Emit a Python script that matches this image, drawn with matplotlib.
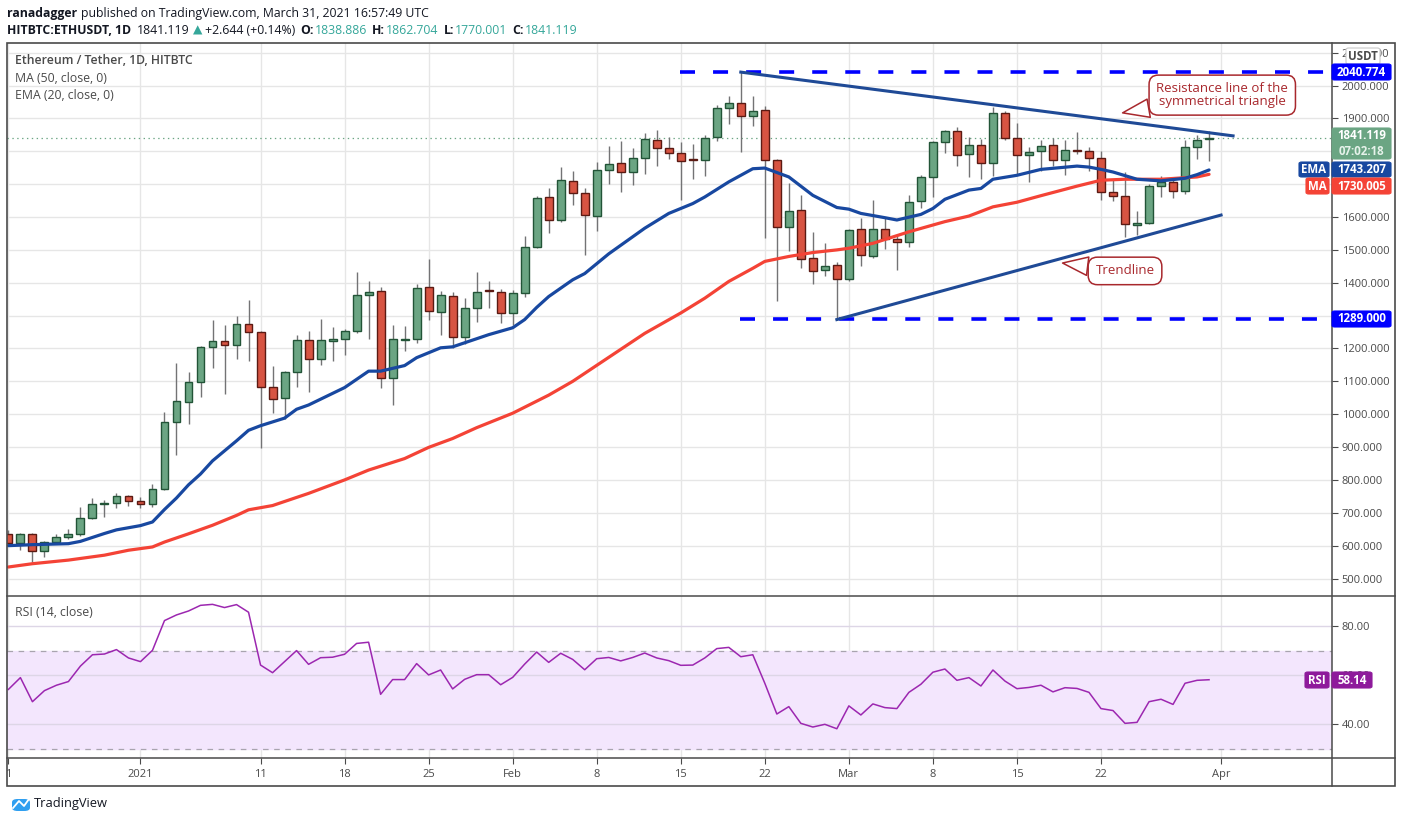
import matplotlib
matplotlib.use('Agg')
import matplotlib.pyplot as plt
from matplotlib.patches import Rectangle, FancyBboxPatch
from matplotlib.lines import Line2D
import numpy as np
import pandas as pd

plt.rcParams['font.family'] = ['Open Sans', 'DejaVu Sans']
plt.rcParams['lines.scale_dashes'] = False

W, H = 1402, 823

# daily candles, Dec 21 2020 .. Mar 31 2021
dates = pd.date_range('2020-12-21', '2021-03-31', freq='D')
opens = [636, 607, 636, 585, 612, 627, 636, 685, 727, 730,
         752, 736, 727, 773, 976, 1037, 1097, 1206, 1222, 1212,
         1273, 1251, 1082, 1048, 1127, 1227, 1167, 1224, 1230, 1254,
         1364, 1376, 1109, 1227, 1230, 1388, 1312, 1361, 1236, 1324,
         1378, 1373, 1309, 1370, 1509, 1661, 1591, 1709, 1673, 1603,
         1742, 1764, 1736, 1779, 1833, 1809, 1794, 1776, 1773, 1845,
         1933, 1948, 1906, 1927, 1773, 1570, 1621, 1476, 1439, 1454,
         1412, 1563, 1481, 1564, 1533, 1524, 1648, 1721, 1827, 1863,
         1791, 1818, 1764, 1918, 1842, 1788, 1800, 1818, 1773, 1803,
         1800, 1779, 1676, 1663, 1576, 1582, 1694, 1706, 1679, 1812,
         1838.886]
highs = [648, 639, 638, 614, 634, 652, 717, 746, 740, 759,
         755, 748, 787, 1007, 1155, 1128, 1209, 1286, 1271, 1298,
         1346, 1254, 1146, 1131, 1242, 1252, 1289, 1265, 1258, 1434,
         1404, 1386, 1271, 1268, 1395, 1471, 1374, 1371, 1355, 1434,
         1404, 1380, 1378, 1543, 1664, 1689, 1752, 1740, 1689, 1767,
         1816, 1831, 1810, 1855, 1864, 1845, 1827, 1822, 1849, 1942,
         1969, 2041, 1969, 1937, 1778, 1703, 1667, 1555, 1521, 1464,
         1565, 1598, 1653, 1600, 1542, 1666, 1727, 1830, 1866, 1875,
         1843, 1836, 1934, 1924, 1885, 1812, 1833, 1842, 1833, 1860,
         1812, 1800, 1715, 1736, 1618, 1700, 1724, 1721, 1833, 1851,
         1862.704]
lows = [598, 588, 549, 566, 605, 620, 629, 680, 687, 714,
        720, 714, 718, 768, 875, 969, 1053, 1141, 1060, 1169,
        1163, 897, 1005, 985, 1084, 1069, 1151, 1162, 1179, 1247,
        1229, 1081, 1029, 1192, 1217, 1287, 1241, 1202, 1214, 1281,
        1323, 1278, 1270, 1357, 1505, 1550, 1584, 1638, 1485, 1559,
        1699, 1675, 1696, 1732, 1756, 1778, 1653, 1717, 1726, 1830,
        1884, 1797, 1878, 1535, 1345, 1497, 1444, 1396, 1421, 1288,
        1405, 1450, 1475, 1503, 1439, 1509, 1627, 1660, 1794, 1754,
        1721, 1715, 1724, 1833, 1730, 1706, 1739, 1754, 1727, 1793,
        1739, 1651, 1648, 1539, 1545, 1578, 1660, 1657, 1670, 1776,
        1770.001]
closes = [607, 636, 585, 612, 627, 636, 685, 727, 730, 752,
          736, 727, 773, 976, 1039, 1097, 1206, 1222, 1212, 1273,
          1251, 1082, 1045, 1127, 1227, 1167, 1227, 1230, 1254, 1364,
          1373, 1109, 1230, 1230, 1385, 1315, 1364, 1236, 1324, 1373,
          1376, 1309, 1370, 1509, 1657, 1591, 1712, 1673, 1606, 1742,
          1760, 1736, 1779, 1836, 1809, 1794, 1770, 1774, 1842, 1933,
          1948, 1906, 1924, 1773, 1570, 1618, 1473, 1436, 1451, 1412,
          1560, 1485, 1563, 1533, 1524, 1645, 1721, 1827, 1863, 1788,
          1818, 1764, 1918, 1842, 1788, 1797, 1815, 1773, 1803, 1801,
          1779, 1676, 1663, 1579, 1582, 1694, 1706, 1679, 1812, 1833,
          1841.119]

# moving averages (day index from Dec 21)
ema_day = [0, 2, 5, 6, 8, 9, 11, 12, 13, 14, 15, 16, 17, 19, 20, 21, 23, 24, 25,
           28, 30, 31, 33, 34, 36, 37, 40, 42, 43, 44, 45, 47, 48, 49, 50, 53, 55,
           57, 58, 60, 61, 62, 63, 65, 67, 69, 70, 71, 73, 74, 76, 77, 78, 80, 81,
           82, 84, 86, 89, 90, 91, 92, 94, 96, 98, 99, 100]
ema_val = [600, 603, 606, 613, 637, 648, 661, 672, 710, 745, 785, 818, 858, 919, 951,
           965, 988, 1015, 1028, 1081, 1131, 1131, 1148, 1172, 1202, 1205, 1242, 1263,
           1288, 1325, 1358, 1409, 1428, 1458, 1488, 1566, 1611, 1641, 1661, 1707, 1727,
           1747, 1749, 1722, 1666, 1629, 1624, 1611, 1598, 1591, 1608, 1626, 1654, 1682,
           1687, 1715, 1727, 1745, 1755, 1752, 1745, 1737, 1715, 1710, 1718, 1729, 1743.207]
ma_day = [0, 2, 5, 8, 10, 12, 13, 15, 16, 17, 19, 20, 22, 25, 28, 30, 33, 35, 37,
          39, 42, 45, 47, 53, 56, 58, 60, 62, 63, 65, 67, 69, 70, 72, 75, 78, 80,
          82, 84, 86, 89, 91, 93, 96, 99, 100]
ma_val = [535, 545, 556, 571, 586, 596, 611, 636, 649, 662, 692, 709, 722, 759, 800,
          830, 865, 899, 926, 959, 1003, 1058, 1100, 1246, 1308, 1353, 1404, 1444,
          1465, 1480, 1492, 1500, 1505, 1520, 1555, 1586, 1603, 1631, 1645, 1665,
          1694, 1712, 1715, 1715, 1722, 1730.005]

rsi = [54.2, 59.0, 49.2, 53.7, 55.9, 57.4, 63.7, 68.3, 68.6, 70.4,
       67.0, 65.5, 70.1, 82.2, 84.5, 86.1, 88.4, 88.8, 87.5, 88.7,
       85.6, 64.1, 61.0, 65.5, 70.0, 64.4, 67.1, 67.3, 68.5, 72.9,
       73.4, 52.2, 58.2, 58.2, 64.7, 60.1, 62.1, 54.4, 58.3, 60.2,
       60.2, 56.1, 59.1, 64.5, 69.4, 65.2, 68.9, 66.4, 62.2, 66.7,
       67.2, 65.8, 67.2, 69.0, 67.0, 65.9, 64.0, 64.1, 67.0, 70.8,
       71.3, 67.5, 68.3, 56.7, 44.2, 47.2, 40.4, 38.9, 40.0, 38.2,
       47.5, 43.8, 48.3, 46.8, 46.4, 53.0, 56.3, 61.2, 62.5, 57.9,
       59.0, 55.6, 62.1, 57.6, 54.5, 55.0, 55.9, 53.2, 54.9, 54.6,
       53.0, 46.4, 45.6, 40.4, 40.8, 49.2, 50.2, 48.1, 56.7, 57.9,
       58.14]

# drawn levels and trend lines
resist_level = 2040.774
support_level = 1289.0
resist_line_day = [61, 102]
resist_line_val = [2041, 1847]
trend_line_day = [69, 101]
trend_line_val = [1288, 1606]
last_price = 1841.119

tick_dates = ['2020-12-21', '2021-01-01', '2021-01-11', '2021-01-18', '2021-01-25',
              '2021-02-01', '2021-02-08', '2021-02-15', '2021-02-22', '2021-03-01',
              '2021-03-08', '2021-03-15', '2021-03-22', '2021-04-01']
tick_labels = ['1', '2021', '11', '18', '25', 'Feb', '8', '15', '22', 'Mar',
               '8', '15', '22', 'Apr']
price_ticks = list(range(500, 2200, 100))
hidden_price_labels = [1300, 1700, 1800]   # covered by the value tags
rsi_ticks = [40, 60, 80]

UP, UP_EDGE = '#6ba583', '#225437'
DN, DN_EDGE = '#d75442', '#5b1a13'
EMA_C, MA_C = '#1848a0', '#f44336'
TXT = '#4a4a4a'
GRID = '#e6e6e6'
NOTE = '#a8282d'


def fx(px):
    return px / W


def fy(py):
    return 1 - py / H


fig = plt.figure(figsize=(W / 100, H / 100), dpi=100)
fig.patch.set_facecolor('white')

ax = fig.add_axes([fx(7), fy(595), (1332 - 7) / W, (595 - 43) / H])
ax_rsi = fig.add_axes([fx(7), fy(758), (1332 - 7) / W, (758 - 596) / H], sharex=ax)

x = np.arange(len(dates))
start = dates[0]
tick_pos = [(pd.Timestamp(t) - start).days for t in tick_dates]

o, h, l, c = (np.array(v, dtype=float) for v in (opens, highs, lows, closes))
up = c >= o
body_lo = np.minimum(o, c)
body_h = np.maximum(np.abs(c - o), 3)

# grid
for p in price_ticks:
    ax.axhline(p, color=GRID, lw=1, zorder=0)
for t in tick_pos:
    ax.axvline(t, color=GRID, lw=1, zorder=0)
    ax_rsi.axvline(t, color=GRID, lw=1, zorder=0)
for r in rsi_ticks:
    ax_rsi.axhline(r, color='#ddd6e6', lw=1, zorder=1)

# candles
ax.vlines(x, l, h, color='#737375', lw=1, zorder=3)
ax.bar(x[up], body_h[up], bottom=body_lo[up], width=0.66, color=UP,
       edgecolor=UP_EDGE, lw=1, zorder=4)
ax.bar(x[~up], body_h[~up], bottom=body_lo[~up], width=0.66, color=DN,
       edgecolor=DN_EDGE, lw=1, zorder=4)

# averages
ax.plot(ma_day, ma_val, color=MA_C, lw=2.3, zorder=5, solid_capstyle='round')
ax.plot(ema_day, ema_val, color=EMA_C, lw=2.3, zorder=5, solid_capstyle='round')

# drawings
ax.plot([55.9, 111], [resist_level] * 2, color='#0000ff', lw=2.6,
        ls=(0, (10.8, 13)), zorder=6)
ax.plot([60.9, 111], [support_level] * 2, color='#0000ff', lw=2.6,
        ls=(0, (10.8, 13)), zorder=6)
ax.plot(resist_line_day, resist_line_val, color='#1f4a96', lw=2.2, zorder=6)
ax.plot(trend_line_day, trend_line_val, color='#1f4a96', lw=2.2, zorder=6)
ax.axhline(last_price, color=UP, lw=0.9, ls=(0, (1, 2.5)), zorder=2)

bubble = dict(boxstyle='round,pad=0.55,rounding_size=0.7', fc='white', ec=NOTE, lw=1.1)
wedge = dict(arrowstyle='wedge,tail_width=1.4,shrink_factor=0.5', fc='white',
             ec=NOTE, lw=1.1, shrinkA=0, shrinkB=0)
ax.annotate('Resistance line of the\nsymmetrical triangle', xy=(92.8, 1917),
            xytext=(101.1, 1971), ha='center', va='center', color=NOTE,
            fontsize=9.5, linespacing=0.95, bbox=bubble, arrowprops=wedge, zorder=8)
ax.annotate('Trendline', xy=(87.8, 1460), xytext=(93.0, 1436), ha='center',
            va='center', color=NOTE, fontsize=9.5, bbox=bubble, arrowprops=wedge,
            zorder=8)

ax.set_xlim(-0.117, 110.24)
ax.set_ylim(449.8, 2129.6)
ax.yaxis.tick_right()
ax.set_yticks(price_ticks)
ax.set_yticklabels(['' if p in hidden_price_labels else f'{p:.3f}' for p in price_ticks])
ax.tick_params(axis='y', length=4, color=TXT, labelcolor=TXT, labelsize=8, pad=3)
ax.tick_params(axis='x', bottom=False, labelbottom=False)
for s in ax.spines.values():
    s.set_visible(False)

ax.text(0.006, 0.968, 'Ethereum / Tether, 1D, HITBTC', transform=ax.transAxes,
        fontsize=8.8, color=TXT, weight='semibold', va='center')
ax.text(0.006, 0.936, 'MA (50, close, 0)', transform=ax.transAxes,
        fontsize=8.8, color=TXT, va='center')
ax.text(0.006, 0.904, 'EMA (20, close, 0)', transform=ax.transAxes,
        fontsize=8.8, color=TXT, va='center')

# RSI pane
ax_rsi.axhspan(30, 70, color='#f3e6fd', zorder=0)
ax_rsi.axhline(70, color='#a8a4ae', lw=0.9, ls=(0, (4, 4)), zorder=1)
ax_rsi.axhline(30, color='#a8a4ae', lw=0.9, ls=(0, (4, 4)), zorder=1)
ax_rsi.plot(x, rsi, color='#9c27b0', lw=1.1, zorder=3)
ax_rsi.set_ylim(26.3, 92.2)
ax_rsi.yaxis.tick_right()
ax_rsi.set_yticks(rsi_ticks)
ax_rsi.set_yticklabels([f'{r:.2f}' for r in rsi_ticks])
ax_rsi.tick_params(axis='y', length=4, color=TXT, labelcolor=TXT, labelsize=8, pad=3)
ax_rsi.set_xticks(tick_pos)
ax_rsi.set_xticklabels(tick_labels)
ax_rsi.tick_params(axis='x', length=4, color=TXT, labelcolor=TXT, labelsize=8, pad=4)
for s in ax_rsi.spines.values():
    s.set_visible(False)
ax_rsi.text(0.006, 0.9, 'RSI (14, close)', transform=ax_rsi.transAxes,
            fontsize=8.8, color=TXT, va='center')

# frame and pane separators
fig.add_artist(Rectangle((fx(7), fy(786)), (1395 - 7) / W, (786 - 43) / H, fill=False,
                         ec='#4a4a4a', lw=1.2, transform=fig.transFigure, zorder=20))
for yy in (595.5, 758):
    fig.add_artist(Line2D([fx(7), fx(1395)], [fy(yy), fy(yy)], color='#4a4a4a',
                          lw=1.1, transform=fig.transFigure, zorder=20))
fig.add_artist(Line2D([fx(1332), fx(1332)], [fy(43), fy(786)], color='#4a4a4a',
                      lw=1.1, transform=fig.transFigure, zorder=20))


def tag(x0, x1, y0, y1, color, lines, tcolors=('white',), ec=None):
    fig.add_artist(FancyBboxPatch((fx(x0), fy(y1)), (x1 - x0) / W, (y1 - y0) / H,
                                  boxstyle='round,pad=0,rounding_size=0.002',
                                  transform=fig.transFigure, fc=color,
                                  ec=ec or color, lw=0.8, zorder=21))
    n = len(lines)
    step = (y1 - y0) / n
    for i, s in enumerate(lines):
        fig.text(fx((x0 + x1) / 2), fy(y0 + step * (i + 0.5)), s,
                 color=tcolors[min(i, len(tcolors) - 1)], ha='center', va='center',
                 fontsize=8.3, weight='bold', zorder=22)


tag(1346, 1380, 48, 64, 'white', ['USDT'], tcolors=(TXT,), ec='#c8c8c8')
tag(1332, 1391, 64, 80, '#0000ff', [f'{resist_level:.3f}'])
tag(1332, 1391, 128, 159, UP, [f'{last_price:.3f}', '07:02:18'],
    tcolors=('white', '#e6f2ea'))
tag(1299, 1329, 162, 177, EMA_C, ['EMA'])
tag(1332, 1391, 162, 177, EMA_C, [f'{ema_val[-1]:.3f}'])
tag(1306, 1329, 178, 194, MA_C, ['MA'])
tag(1332, 1391, 178, 194, MA_C, [f'{ma_val[-1]:.3f}'])
tag(1332, 1391, 311, 327, '#0000ff', [f'{support_level:.3f}'])
tag(1305, 1329, 672, 688, '#8e1a9b', ['RSI'])
tag(1332, 1372, 672, 688, '#8e1a9b', [f'{rsi[-1]:.2f}'])

# header, laid out piece by piece
hdr = '#131722'
teal = '#35a79a'
renderer = fig.canvas.get_renderer()


def text_row(x0, y, parts, size=8.8):
    xp = x0
    for s, col, wt, gap in parts:
        t = fig.text(fx(xp), fy(y), s, fontsize=size, color=col, weight=wt, va='center')
        xp = t.get_window_extent(renderer).x1 + gap


text_row(7, 13, [('ranadagger', hdr, 'bold', 4),
                 ('published on TradingView.com, March 31, 2021 16:57:49 UTC', hdr, 'normal', 0)])
text_row(7, 30, [('HITBTC:ETHUSDT, 1D', hdr, 'bold', 6), ('1841.119', hdr, 'normal', 3),
                 ('\u25b2', teal, 'normal', 3), ('+2.644 (+0.14%)', hdr, 'normal', 5),
                 ('O:', hdr, 'bold', 1), ('1838.886', teal, 'normal', 5),
                 ('H:', hdr, 'bold', 1), ('1862.704', teal, 'normal', 5),
                 ('L:', hdr, 'bold', 1), ('1770.001', teal, 'normal', 5),
                 ('C:', hdr, 'bold', 1), ('1841.119', teal, 'normal', 0)])

# TradingView mark
fig.add_artist(FancyBboxPatch((fx(12), fy(811)), 18 / W, 12 / H,
                              boxstyle='round,pad=0,rounding_size=0.004',
                              transform=fig.transFigure, fc='#2f9ff0', ec='none'))
fig.add_artist(Line2D([fx(13), fx(19), fx(24), fx(29)], [fy(808), fy(801), fy(806), fy(799)],
                      color='white', lw=1.3, transform=fig.transFigure))
fig.text(fx(34), fy(804), 'TradingView', fontsize=9.3, color=hdr, va='center')

fig.savefig('out.png', dpi=100)
